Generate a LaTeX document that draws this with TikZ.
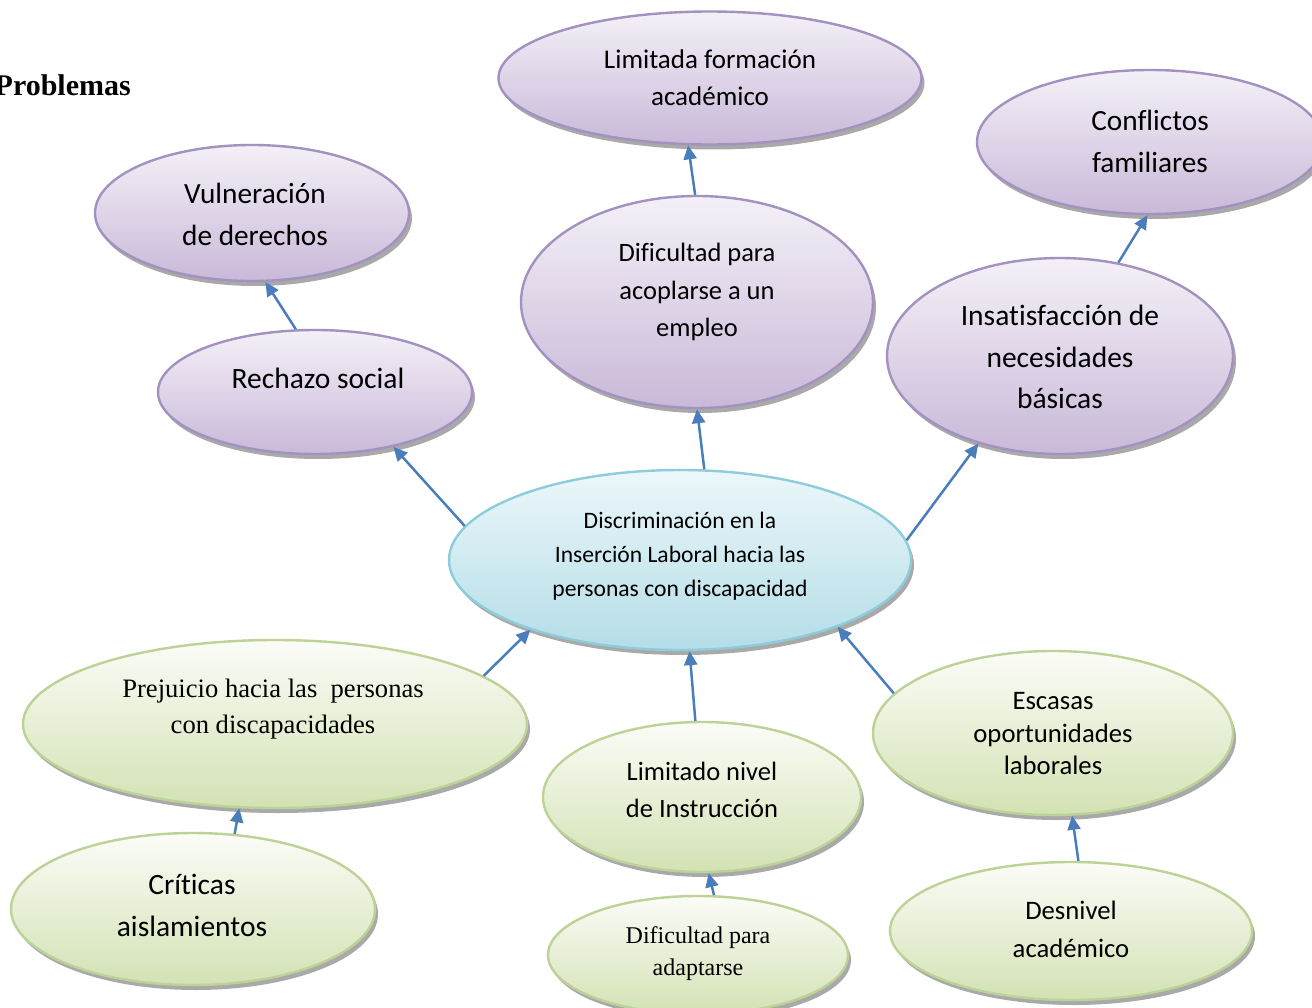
\documentclass[tikz,border=0pt]{standalone}
\usepackage{fontspec}
\setmainfont{Carlito}[Ligatures=NoCommon]
\newfontfamily\tnr{Liberation Serif}[Ligatures=NoCommon]
\usetikzlibrary{shapes.geometric,shadows,arrows.meta}
\definecolor{pTop}{HTML}{F4F0F7}
\definecolor{pBot}{HTML}{C9B9D9}
\definecolor{pBrd}{HTML}{A391BF}
\definecolor{gTop}{HTML}{FBFCF7}
\definecolor{gBot}{HTML}{D3E2B4}
\definecolor{gBrd}{HTML}{BCD296}
\definecolor{bTop}{HTML}{ECF7FA}
\definecolor{bBot}{HTML}{B4DDE7}
\definecolor{bBrd}{HTML}{8DCCDB}
\definecolor{arrC}{HTML}{4A7EBB}
\definecolor{shC}{HTML}{9A9A9A}
\tikzset{
  oval/.style 2 args={ellipse, minimum width=#1pt, minimum height=#2pt, inner sep=0pt, line width=2.4pt,
     drop shadow={shadow xshift=3pt, shadow yshift=-5pt, fill=shC, opacity=0.85}},
  purp/.style={draw=pBrd, top color=pTop, bottom color=pBot},
  grn/.style={draw=gBrd, top color=gTop, bottom color=gBot},
  blu/.style={draw=bBrd, top color=bTop, bottom color=bBot},
  lbl/.style={align=center, inner sep=0pt},
  arr/.style={draw=arrC, line width=2.5pt, -{Triangle[length=14pt,width=13pt]}},
}
\begin{document}
\begin{tikzpicture}[x=1pt,y=-1pt]
\useasboundingbox[fill=white] (0,0) rectangle (1312,1008);

% ellipses
\node[oval={423}{133}, purp] (limf) at (710,78) {};
\node[oval={346}{144}, purp] (conf) at (1150,142) {};
\node[oval={314}{136}, purp] (vuln) at (252,213) {};
\node[oval={352}{212}, purp] (difa) at (697,302) {};
\node[oval={314}{124}, purp] (rech) at (315,392) {};
\node[oval={346}{196}, purp] (insa) at (1060,356) {};
\node[oval={462}{180}, blu] (cent) at (680,560) {};
\node[oval={504}{168}, grn] (prej) at (275,724) {};
\node[oval={318}{150}, grn] (limn) at (702,797) {};
\node[oval={360}{164}, grn] (esca) at (1053,733) {};
\node[oval={364}{152}, grn] (crit) at (193,909) {};
\node[oval={300}{118}, grn] (difd) at (698,955) {};
\node[oval={362}{138}, grn] (desn) at (1071,931) {};

% texts
\node[anchor=east, inner sep=0pt, font=\tnr\bfseries\fontsize{30}{34}\selectfont] (tit) at (131,85) {Problemas};
\node[lbl, font=\fontsize{27}{37}\selectfont] (tlimf) at (710,78) {Limitada formación\\académico};
\node[lbl, font=\fontsize{29.3}{42}\selectfont] (tconf) at (1150,141) {Conflictos\\familiares};
\node[lbl, font=\fontsize{29.3}{42}\selectfont] (tvuln) at (255,214) {Vulneración\\de derechos};
\node[lbl, font=\fontsize{26.5}{37.5}\selectfont] (tdifa) at (697,292) {Dificultad para\\acoplarse a un\\empleo};
\node[lbl, font=\fontsize{29.5}{42}\selectfont] (trech) at (318,378) {Rechazo social};
\node[lbl, font=\fontsize{29.5}{41.5}\selectfont] (tinsa) at (1060,357) {Insatisfacción de\\necesidades\\básicas};
\node[lbl, font=\fontsize{23.6}{34}\selectfont] (tcent) at (680,556) {Discriminación en la\\Inserción Laboral hacia las\\personas con discapacidad};
\node[lbl, font=\tnr\fontsize{26.6}{36}\selectfont] (tprej) at (273,709) {Prejuicio hacia las\ \ personas\\con discapacidades};
\node[lbl, font=\fontsize{26.5}{37}\selectfont] (tlimn) at (702,790) {Limitado nivel\\de Instrucción};
\node[lbl, font=\fontsize{26.7}{32.5}\selectfont] (tesca) at (1053,734) {Escasas\\oportunidades\\laborales};
\node[lbl, font=\fontsize{29.5}{42}\selectfont] (tcrit) at (192,905) {Críticas\\aislamientos};
\node[lbl, font=\tnr\fontsize{24}{32}\selectfont] (tdifd) at (698,954) {Dificultad para\\adaptarse};
\node[lbl, font=\fontsize{26.7}{38}\selectfont] (tdesn) at (1071,929) {Desnivel\\académico};

% arrows
\draw[arr] (rech.107.9) -- (vuln.-79);
\draw[arr] (difa.91.1) -- (limf.-108.2);
\draw[arr] (insa.58.9) -- (conf.-92.5);
\draw[arr] (cent.171.1) -- (rech.-35.5);
\draw[arr] (cent.75.1) -- (difa.-90);
\draw[arr] (cent.5.2) -- (insa.-133);
\draw[arr] (prej.13.8) -- (cent.-155.2);
\draw[arr] (limn.95.3) -- (cent.-84.9);
\draw[arr] (esca.166.6) -- (cent.-23.5);
\draw[arr] (crit.61.6) -- (prej.-113.9);
\draw[arr] (difd.75.5) -- (limn.-85.2);
\draw[arr] (desn.84) -- (esca.-77.3);
\end{tikzpicture}
\end{document}
